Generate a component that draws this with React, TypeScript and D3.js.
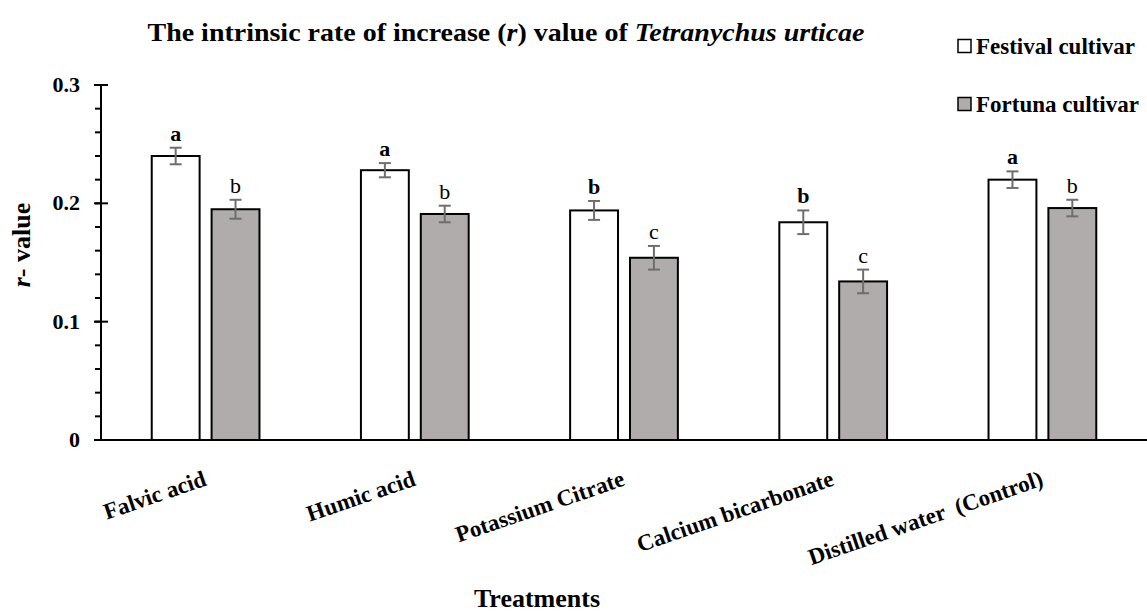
import React, { useRef, useEffect } from 'react';
import * as d3 from 'd3';

const treatments = ['Falvic acid', 'Humic acid', 'Potassium Citrate', 'Calcium bicarbonate', 'Distilled water  (Control)'];
const cultivars = ['Festival cultivar', 'Fortuna cultivar'];
const festival = [0.240, 0.228, 0.194, 0.184, 0.220];
const fortuna = [0.195, 0.191, 0.154, 0.134, 0.196];
const festivalErr = [0.007, 0.006, 0.008, 0.010, 0.007];
const fortunaErr = [0.008, 0.007, 0.010, 0.010, 0.007];
const festivalLetters = ['a', 'a', 'b', 'b', 'a'];
const fortunaLetters = ['b', 'b', 'c', 'c', 'b'];
const yTicks = [0, 0.1, 0.2, 0.3];

const FONT = '"Liberation Serif", "Times New Roman", serif';

const App = () => {
  const ref = useRef(null);

  useEffect(() => {
    d3.select(ref.current).selectAll('*').remove();
    const width = 1147;
    const height = 615;
    const left = 101, right = 1147, top = 85, bottom = 440;

    const svg = d3.select(ref.current)
      .append('svg')
        .attr('width', width)
        .attr('height', height)
        .style('position', 'absolute')
        .style('left', 0)
        .style('top', 0)
        .attr('font-family', FONT);

    const x = d3.scaleBand().domain(treatments).range([left, right]).paddingInner(0.485).paddingOuter(0.2425);
    const xSub = d3.scaleBand().domain(cultivars).range([0, x.bandwidth()]).paddingInner(0.2);
    const y = d3.scaleLinear().domain([0, 0.3]).range([bottom, top]);

    // title
    const title = svg.append('text')
      .attr('x', 506).attr('y', 41)
      .attr('text-anchor', 'middle')
      .attr('font-size', 25).attr('font-weight', 'bold')
      .attr('textLength', 717).attr('lengthAdjust', 'spacingAndGlyphs');
    title.append('tspan').text('The intrinsic rate of increase (');
    title.append('tspan').attr('font-style', 'italic').text('r');
    title.append('tspan').text(') value of ');
    title.append('tspan').attr('font-style', 'italic').text('Tetranychus urticae');

    // y axis minor ticks
    const minor = d3.range(0, 0.3001, 0.02);
    svg.append('g').selectAll('line').data(minor).join('line')
      .attr('x1', left - 6).attr('x2', left)
      .attr('y1', d => y(d)).attr('y2', d => y(d))
      .attr('stroke', '#000').attr('stroke-width', 2);

    svg.append('g').selectAll('line').data(yTicks).join('line')
      .attr('x1', left - 7).attr('x2', left + 7)
      .attr('y1', d => y(d)).attr('y2', d => y(d))
      .attr('stroke', '#000').attr('stroke-width', 2);

    svg.append('g').selectAll('text').data(yTicks).join('text')
      .attr('x', 80).attr('y', d => y(d) + 7)
      .attr('text-anchor', 'end')
      .attr('font-size', 22).attr('font-weight', 'bold')
      .text(d => d === 0 ? '0' : d3.format('.1f')(d));

    svg.append('line')
      .attr('x1', left).attr('x2', left)
      .attr('y1', top).attr('y2', bottom)
      .attr('stroke', '#000').attr('stroke-width', 2);

    // y title
    const yTitle = svg.append('text')
      .attr('transform', `translate(30, 245) rotate(-90)`)
      .attr('text-anchor', 'middle')
      .attr('font-size', 26).attr('font-weight', 'bold');
    yTitle.append('tspan').attr('font-style', 'italic').text('r');
    yTitle.append('tspan').text('- value');

    // bars
    const series = [
      { name: cultivars[0], values: festival, err: festivalErr, letters: festivalLetters, fill: '#ffffff', bold: true },
      { name: cultivars[1], values: fortuna, err: fortunaErr, letters: fortunaLetters, fill: '#b0acab', bold: false },
    ];

    series.forEach(s => {
      const g = svg.append('g');
      treatments.forEach((t, i) => {
        const bx = x(t) + xSub(s.name);
        const bw = xSub.bandwidth();
        const cx = bx + bw / 2;
        g.append('rect')
          .attr('x', bx).attr('y', y(s.values[i]))
          .attr('width', bw).attr('height', bottom - y(s.values[i]))
          .attr('fill', s.fill).attr('stroke', '#000').attr('stroke-width', 2);
        const hi = y(s.values[i] + s.err[i]);
        const lo = y(s.values[i] - s.err[i]);
        g.append('line').attr('x1', cx).attr('x2', cx).attr('y1', hi).attr('y2', lo)
          .attr('stroke', '#6e6e6e').attr('stroke-width', 2);
        [hi, lo].forEach(v => {
          g.append('line').attr('x1', cx - 6).attr('x2', cx + 6).attr('y1', v).attr('y2', v)
            .attr('stroke', '#6e6e6e').attr('stroke-width', 2);
        });
        g.append('text')
          .attr('x', cx).attr('y', hi - 7)
          .attr('text-anchor', 'middle')
          .attr('font-size', 22)
          .attr('font-weight', s.bold ? 'bold' : 'normal')
          .text(s.letters[i]);
      });
    });

    // x axis
    svg.append('line')
      .attr('x1', left - 7).attr('x2', right)
      .attr('y1', bottom).attr('y2', bottom)
      .attr('stroke', '#000').attr('stroke-width', 2);

    svg.append('g').selectAll('text').data(treatments).join('text')
      .attr('transform', d => `translate(${x(d) + x.bandwidth() / 2 + 2}, 485) rotate(-19)`)
      .attr('text-anchor', 'end')
      .attr('font-size', 23).attr('font-weight', 'bold')
      .style('white-space', 'pre')
      .text(d => d);

    svg.append('text')
      .attr('x', 537).attr('y', 607)
      .attr('text-anchor', 'middle')
      .attr('font-size', 26).attr('font-weight', 'bold')
      .text('Treatments');

    // legend
    const legend = svg.append('g');
    series.forEach((s, i) => {
      const ly = 46 + i * 58;
      legend.append('rect')
        .attr('x', 958).attr('y', ly - 6.5).attr('width', 13).attr('height', 13)
        .attr('fill', s.fill).attr('stroke', '#000').attr('stroke-width', 1.5);
      legend.append('text')
        .attr('x', 976).attr('y', ly + 8)
        .attr('font-size', 23).attr('font-weight', 'bold')
        .text(s.name);
    });
  }, []);

  return <div ref={ref}></div>;
};

export default App;
